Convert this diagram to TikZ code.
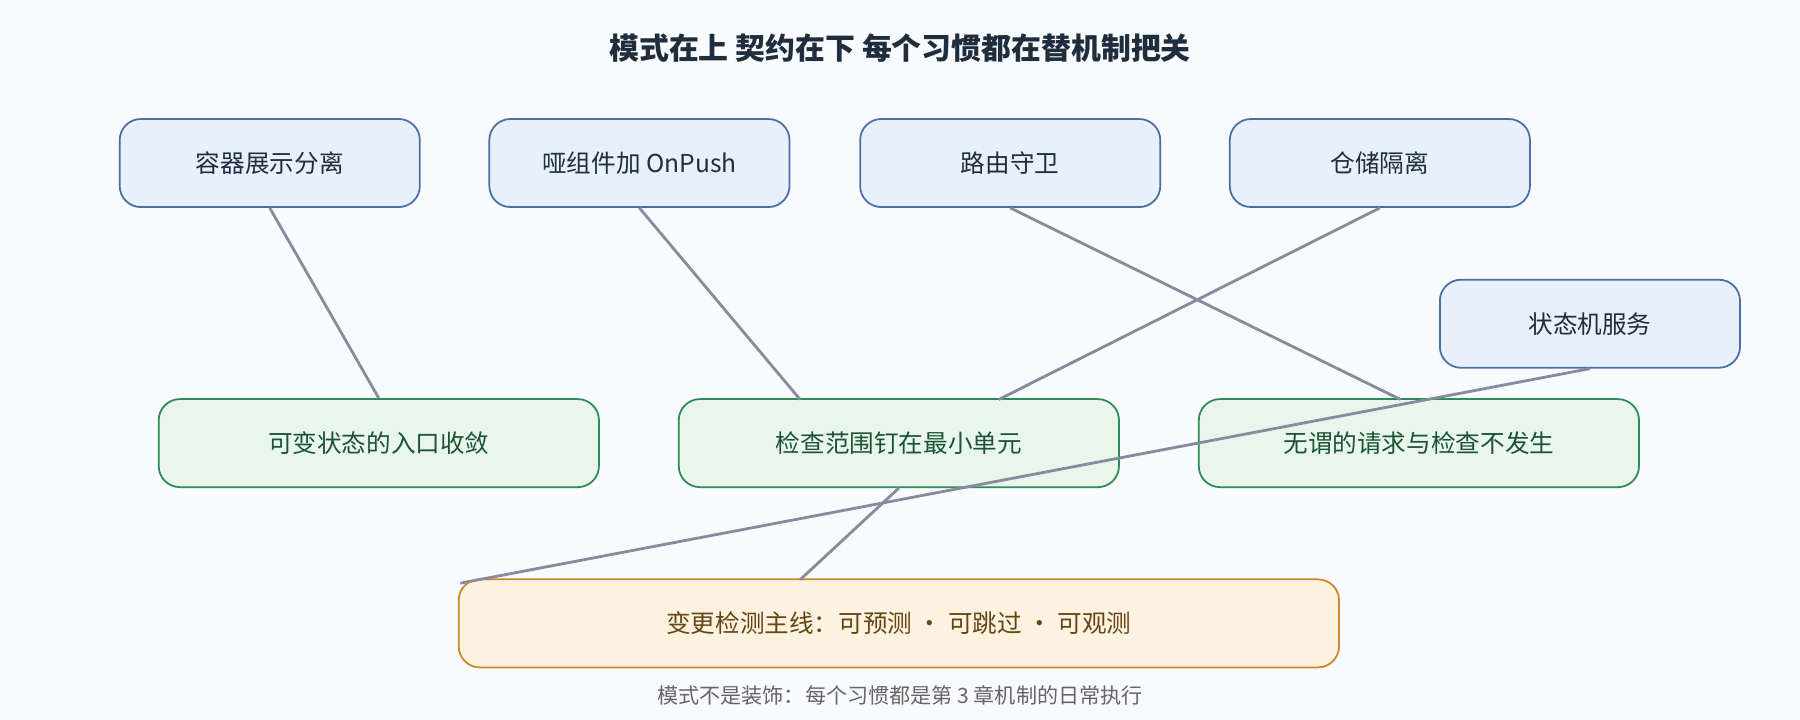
\documentclass[tikz,border=0pt]{standalone}
\usepackage{fontspec}
\setmainfont{Noto Sans CJK SC}
\definecolor{bgc}{HTML}{F8FAFD}
\definecolor{bluef}{HTML}{E8F0FC}
\definecolor{blued}{HTML}{4A6FA5}
\definecolor{greenf}{HTML}{E9F6EC}
\definecolor{greend}{HTML}{2E8B57}
\definecolor{orangef}{HTML}{FDF2E0}
\definecolor{oranged}{HTML}{C98A2B}
\definecolor{inkc}{HTML}{1F2D3D}
\definecolor{linkc}{HTML}{8A8A9E}
\begin{document}
\begin{tikzpicture}[x=0.01148cm, y=-0.01148cm]
	\tikzset{box/.style={rounded corners=6pt, line width=0.5pt, minimum height=0.88cm, font=\fontsize{7}{8}\selectfont, inner sep=0pt},
		hab/.style={box, fill=bluef, draw=blued, text=inkc, minimum width=3.0cm},
		res/.style={box, fill=greenf, draw=greend, text=greend!60!black, minimum width=4.4cm},
		core/.style={box, fill=orangef, draw=oranged, text=oranged!50!black, minimum width=8.8cm},
		link/.style={draw=linkc, line width=0.8pt}};

	\fill[bgc] (0,0) rectangle (1568,627);

	\node[font=\fontsize{8.5}{10}\selectfont\bfseries, text=inkc] (title) at (784,42) {模式在上 契约在下 每个习惯都在替机制把关};

	\node[hab] (h1) at (235,142) {容器展示分离};
	\node[hab] (h2) at (557,142) {哑组件加 OnPush};
	\node[hab] (h3) at (880,142) {路由守卫};
	\node[hab] (h4) at (1202,142) {仓储隔离};
	\node[hab] (h5) at (1385,282) {状态机服务};

	\node[res] (r1) at (330,386) {可变状态的入口收敛};
	\node[res] (r2) at (783,386) {检查范围钉在最小单元};
	\node[res] (r3) at (1236,386) {无谓的请求与检查不发生};

	\node[core] (c) at (783,543) {变更检测主线：可预测 · 可跳过 · 可观测};

	\node[font=\fontsize{6}{7}\selectfont, text=gray!80!black] (note) at (784,606) {模式不是装饰：每个习惯都是第 3 章机制的日常执行};

	\coordinate (r2a) at (697,348);
	\coordinate (r2b) at (870,348);
	\coordinate (r3a) at (1220,348);
	\coordinate (ca) at (697,505);
	\coordinate (cb) at (401,508);

	\draw[link] (h1.south) -- (r1.north);
	\draw[link] (h2.south) -- (r2a);
	\draw[link] (h3.south) -- (r3a);
	\draw[link] (h4.south) -- (r2b);
	\draw[link] (h5.south) -- (cb);
	\draw[link] (r2.south) -- (ca);
\end{tikzpicture}
\end{document}
